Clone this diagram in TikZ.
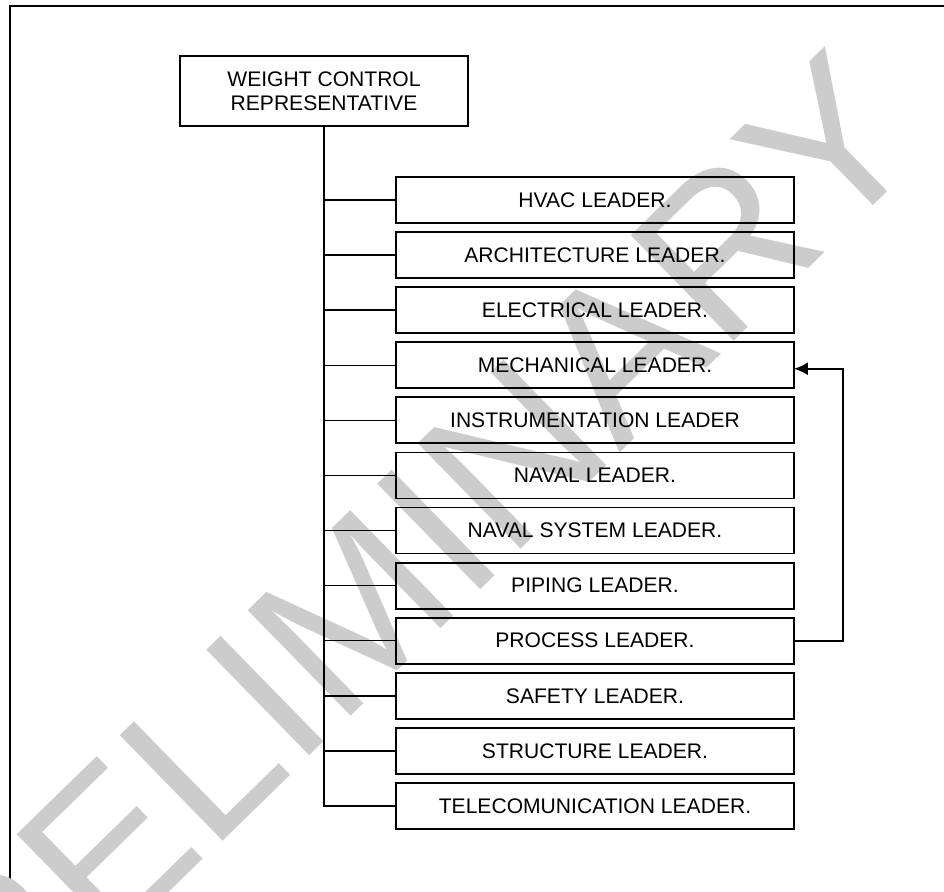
\documentclass[tikz,border=0pt]{standalone}
\usepackage{fontspec}
\setmainfont{Liberation Sans}
\usetikzlibrary{arrows.meta, positioning}

\begin{document}
\begin{tikzpicture}[
    x=0.02cm, y=-0.02cm,
    node distance=0.182cm,
    every node/.style={font=\fontsize{12}{13.8}\selectfont},
    repbox/.style={rectangle, draw, line width=1pt, minimum width=5.76cm, minimum height=1.4cm, align=center, outer sep=0pt},
    leadbox/.style={rectangle, draw, line width=1pt, minimum width=7.96cm, minimum height=0.92cm, align=center, outer sep=0pt},
    trunk/.style={line width=1.2pt},
    link/.style={line width=0.8pt},
    arrow/.style={-{Latex[length=2.8mm, width=2.6mm]}, line width=1.1pt},
    watermark/.style={text=black!20, font=\fontsize{122}{122}\selectfont, inner sep=0pt, rotate=44.3}
]

% ============ PAGE ============
\clip (0,0) rectangle (944,892);
\draw[line width=0.6pt] (10,6) rectangle (960,910);

% Watermark
\node[watermark] (mark) at (362,602) {PRELIMINARY};

% ============ REPRESENTATIVE ============
\node[repbox] (rep) at (324,91) {WEIGHT CONTROL\\REPRESENTATIVE};

% ============ LEADERS ============
\node[leadbox] (hvac) at (595,200) {HVAC LEADER.};
\node[leadbox, below=of hvac] (arch) {ARCHITECTURE LEADER.};
\node[leadbox, below=of arch] (elec) {ELECTRICAL LEADER.};
\node[leadbox, below=of elec] (mech) {MECHANICAL LEADER.};
\node[leadbox, below=of mech] (inst) {INSTRUMENTATION LEADER};
\node[leadbox, below=of inst] (naval) {NAVAL LEADER.};
\node[leadbox, below=of naval] (navsys) {NAVAL SYSTEM LEADER.};
\node[leadbox, below=of navsys] (pipe) {PIPING LEADER.};
\node[leadbox, below=of pipe] (proc) {PROCESS LEADER.};
\node[leadbox, below=of proc] (safe) {SAFETY LEADER.};
\node[leadbox, below=of safe] (struct) {STRUCTURE LEADER.};
\node[leadbox, below=of struct] (tele) {TELECOMUNICATION LEADER.};

% ============ CONNECTIONS ============
% Trunk down to the last leader
\draw[trunk] (rep.south) |- (tele.west);

% Branches
\draw[link] (rep.south |- hvac.west) -- (hvac.west);
\draw[link] (rep.south |- arch.west) -- (arch.west);
\draw[link] (rep.south |- elec.west) -- (elec.west);
\draw[link] (rep.south |- mech.west) -- (mech.west);
\draw[link] (rep.south |- inst.west) -- (inst.west);
\draw[link] (rep.south |- naval.west) -- (naval.west);
\draw[link] (rep.south |- navsys.west) -- (navsys.west);
\draw[link] (rep.south |- pipe.west) -- (pipe.west);
\draw[link] (rep.south |- proc.west) -- (proc.west);
\draw[link] (rep.south |- safe.west) -- (safe.west);
\draw[link] (rep.south |- struct.west) -- (struct.west);

% Process feeds back to mechanical
\draw[arrow] (proc.east) -- ++(49,0) |- ([yshift=-0.07cm]mech.east);

\end{tikzpicture}
\end{document}
